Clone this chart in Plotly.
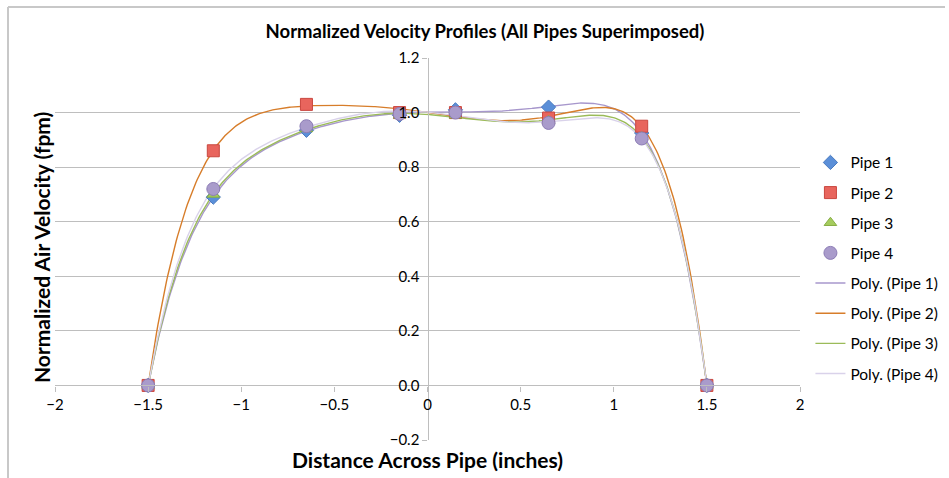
import numpy as np
import plotly.graph_objects as go

# Traverse positions across the pipe (inches)
positions = [-1.5, -1.15, -0.65, -0.15, 0.15, 0.65, 1.15, 1.5]

# Normalized air velocity at each traverse position
pipe1 = [0.0, 0.69, 0.935, 0.99, 1.01, 1.02, 0.925, 0.0]
pipe2 = [0.0, 0.86, 1.03, 1.0, 1.0, 0.98, 0.95, 0.0]
pipe3 = [0.0, 0.70, 0.94, 0.99, 0.99, 0.97, 0.91, 0.0]
pipe4 = [0.0, 0.72, 0.95, 0.995, 1.0, 0.962, 0.905, 0.0]

names = ["Pipe 1", "Pipe 2", "Pipe 3", "Pipe 4"]
series = [pipe1, pipe2, pipe3, pipe4]

marker_styles = [
    dict(symbol="diamond", size=11, color="#5B8FD8", line=dict(color="#4A7BC0", width=1)),
    dict(symbol="square", size=12, color="#E8655D", line=dict(color="#C9473F", width=1)),
    dict(symbol="triangle-up", size=11, color="#A5CC5E", line=dict(color="#88AE45", width=1)),
    dict(symbol="circle", size=13, color="#A99BCB", line=dict(color="#8C7CB5", width=1)),
]
trend_colors = ["#A797CC", "#D77D2A", "#9BBB59", "#D9D2EA"]

FONT = "Lato"
GRID = "#BEBEBE"

fig = go.Figure()

# Sixth-order polynomial trendlines fitted to each pipe's readings
xs = np.linspace(min(positions), max(positions), 400)
for i, (name, ys) in enumerate(zip(names, series)):
    coeffs = np.polyfit(positions, ys, 6)
    fig.add_trace(go.Scatter(
        x=xs, y=np.polyval(coeffs, xs), mode="lines",
        name=f"Poly. ({name})",
        line=dict(color=trend_colors[i], width=1.4),
        legendrank=5 + i, legendgroup=f"t{i}",
        hoverinfo="skip",
    ))

# Measured points
for i, (name, ys) in enumerate(zip(names, series)):
    fig.add_trace(go.Scatter(
        x=positions, y=ys, mode="markers", name=name,
        marker=marker_styles[i],
        legendrank=1 + i, legendgroup=f"m{i}",
    ))

fig.update_layout(
    width=949, height=478,
    margin=dict(l=55, r=149, t=58, b=38, autoexpand=False),
    paper_bgcolor="white", plot_bgcolor="white",
    font=dict(family=FONT, color="#000000", size=15),
    showlegend=True,
    title=dict(
        text="<b>Normalized Velocity Profiles (All Pipes Superimposed)</b>",
        x=485 / 949, xanchor="center", y=1 - 32 / 478, yanchor="middle",
        font=dict(family=FONT, size=18.5, color="#000000"),
    ),
    legend=dict(
        x=1.014, xanchor="left", y=0.77, yanchor="top",
        font=dict(family=FONT, size=15.5, color="#000000"),
        traceorder="grouped", tracegroupgap=7,
        itemwidth=30, bgcolor="rgba(0,0,0,0)",
    ),
    xaxis=dict(
        range=[-2, 2], dtick=0.5, tick0=-2,
        showgrid=False, zeroline=False,
        showline=True, linecolor=GRID, linewidth=1.3,
        ticks="outside", ticklen=5, tickcolor=GRID, tickwidth=1.3,
        anchor="free", position=0.2 / 1.4,
        tickfont=dict(family=FONT, size=15, color="#000000"),
    ),
    yaxis=dict(
        range=[-0.2, 1.2], dtick=0.2, tick0=-0.2, tickformat=".1f",
        showgrid=True, gridcolor=GRID, gridwidth=1.3, zeroline=False,
        showline=True, linecolor=GRID, linewidth=1.3,
        ticks="outside", ticklen=5, tickcolor=GRID, tickwidth=1.3,
        anchor="free", position=0.5,
        tickfont=dict(family=FONT, size=15, color="#000000"),
    ),
    annotations=[
        dict(text="<b>Distance Across Pipe (inches)</b>", xref="paper", yref="paper",
             x=0.5, y=(440 - 459) / 382, xanchor="center", yanchor="middle",
             showarrow=False, font=dict(family=FONT, size=21, color="#000000")),
        dict(text="<b>Normalized Air Velocity (fpm)</b>", xref="paper", yref="paper",
             x=(41 - 55) / 745, y=(440 - 248) / 382, xanchor="center", yanchor="middle",
             textangle=-90, showarrow=False,
             font=dict(family=FONT, size=21, color="#000000")),
    ],
    shapes=[
        # outer chart frame
        dict(type="line", xref="paper", yref="paper",
             x0=(8 - 55) / 745, x1=(8 - 55) / 745, y0=(440 - 7) / 382, y1=(440 - 490) / 382,
             line=dict(color="#C8C8C8", width=2)),
        dict(type="line", xref="paper", yref="paper",
             x0=(8 - 55) / 745, x1=(945 - 55) / 745, y0=(440 - 7) / 382, y1=(440 - 7) / 382,
             line=dict(color="#C8C8C8", width=2)),
    ],
)

fig.write_html("out.html")
